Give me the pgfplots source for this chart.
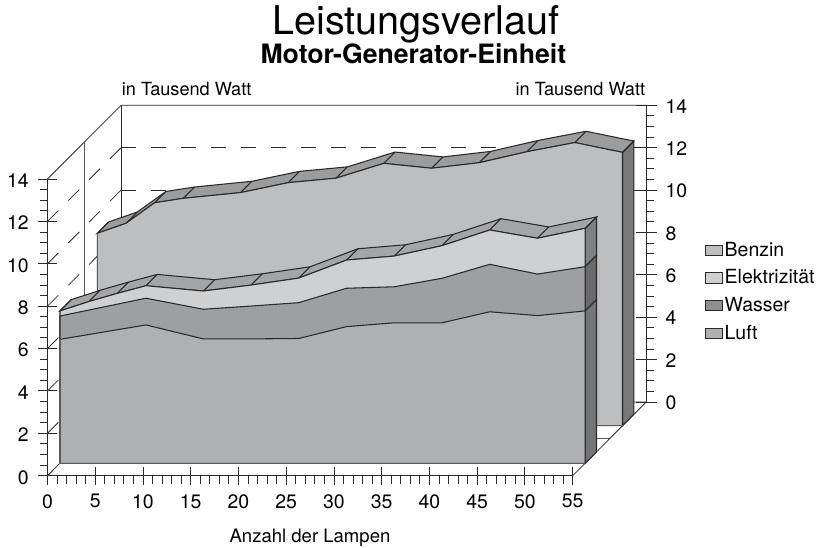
\documentclass[border=0pt]{standalone}
\usepackage{fontspec}
\setmainfont{TeX Gyre Heros}
\usepackage{pgfplots}
\usepackage{pgfplotstable}
\pgfplotsset{compat=1.18}
\definecolor{ln}{HTML}{2A2A2A}
\definecolor{grl}{HTML}{5A5A5C}
\definecolor{fB}{HTML}{BDBEC0}
\definecolor{sB}{HTML}{9B9C9E}
\definecolor{eB}{HTML}{77787A}
\definecolor{fE}{HTML}{CFD0D2}
\definecolor{sE}{HTML}{A4A5A7}
\definecolor{eE}{HTML}{808183}
\definecolor{fW}{HTML}{9E9FA1}
\definecolor{eW}{HTML}{6B6B6D}
\definecolor{lW}{HTML}{8E8F91}
\definecolor{fL}{HTML}{AFB0B2}
\definecolor{eL}{HTML}{747577}
% depth steps, in units of the two axes
\def\sx{1.184}\def\sy{0.533}
\def\fx{1.31}\def\fy{0.585}
\def\bx{5.217}\def\by{2.36}
% Benzin: first 13 rows front edge, then back edge reversed
\pgfplotstableread{
x y d
0 9.08 0
3 9.55 0
6 10.52 0
9 10.73 0
15 11.00 0
20 11.47 0
25 11.68 0
30 12.38 0
35 12.15 0
40 12.41 0
45 12.93 0
50 13.36 0
55 12.90 0
55 12.90 1
50 13.36 1
45 12.93 1
40 12.41 1
35 12.15 1
30 12.38 1
25 11.68 1
20 11.47 1
15 11.00 1
9 10.73 1
6 10.52 1
3 9.55 1
0 9.08 1
}\tabB
\pgfplotstableread{
x y d
0 7.19 0
3 7.63 0
6 8.02 0
9 8.38 0
15 8.13 0
20 8.41 0
25 8.74 0
30 9.59 0
35 9.78 0
40 10.27 0
45 11.01 0
50 10.62 0
55 11.09 0
55 11.09 1
50 10.62 1
45 11.01 1
40 10.27 1
35 9.78 1
30 9.59 1
25 8.74 1
20 8.41 1
15 8.13 1
9 8.38 1
6 8.02 1
3 7.63 1
0 7.19 1
}\tabE
\pgfplotstableread{
x y
0 6.95
9 7.79
15 7.27
20 7.42
25 7.58
30 8.26
35 8.33
40 8.73
45 9.39
50 8.93
55 9.28
}\tabW
\pgfplotstableread{
x y
0 5.85
9 6.53
15 5.87
20 5.87
25 5.89
30 6.45
35 6.63
40 6.63
45 7.15
50 6.97
55 7.19
}\tabL
\pgfplotsset{
  /pgfplots/table/inF/.style={x expr=\thisrow{x}+\fx,y expr=\thisrow{y}+\fy},
  /pgfplots/table/inB/.style={x expr=\thisrow{x}+\bx,y expr=\thisrow{y}+\by},
  /pgfplots/table/inFd/.style={x expr=\thisrow{x}+\fx+\thisrow{d}*\sx,y expr=\thisrow{y}+\fy+\thisrow{d}*\sy},
  /pgfplots/table/inBd/.style={x expr=\thisrow{x}+\bx+\thisrow{d}*\sx,y expr=\thisrow{y}+\by+\thisrow{d}*\sy},
}
\begin{document}
\begin{tikzpicture}
\path[use as bounding box] (0,0) rectangle (617.25pt,411pt);
% back axis: right-hand scale
\begin{axis}[
  at={(90.75pt,109.5pt)},anchor=south west,scale only axis,
  width=393.9pt,height=222.5pt,
  xmin=0,xmax=55,ymin=0,ymax=14,
  axis x line=none,axis y line=right,axis line style={-,ln,line width=0.8pt},
  ytick={0,2,...,14},minor y tick num=3,
  tick align=center,major tick length=16pt,minor tick length=6pt,
  tick style={ln,line width=0.7pt},
  minor y tick style={xshift=3pt},
  tick label style={font=\fontsize{14.6pt}{16pt}\selectfont},
  yticklabel style={xshift=3pt,yshift=-0.6pt},
  /pgf/number format/assume math mode=true,
]
\end{axis}
% main axis
\begin{axis}[
  at={(35.625pt,54.225pt)},anchor=south west,scale only axis,
  width=393.9pt,height=222.5pt,
  xmin=0,xmax=55,ymin=0,ymax=14,clip=false,
  axis x line=bottom,axis y line=left,axis line style={-,ln,line width=0.8pt},
  xtick={0,5,...,55},ytick={0,2,...,14},minor x tick num=4,minor y tick num=3,
  tick align=center,major tick length=13.5pt,minor tick length=6pt,
  tick style={ln,line width=0.7pt},
  minor x tick style={yshift=-3pt},
  minor y tick style={xshift=-3pt},
  tick label style={font=\fontsize{14.6pt}{16pt}\selectfont},
  yticklabel style={xshift=-3.75pt,yshift=-1.2pt},
  xticklabel style={yshift=-3.75pt},
  /pgf/number format/assume math mode=true,
  xlabel={Anzahl der Lampen},
  x label style={at={(axis description cs:0.4998,-0.2268)},anchor=base,font=\fontsize{13.9pt}{16pt}\selectfont},
  legend style={at={(axis cs:68.84,11.11)},anchor=north west,draw=none,fill=none,
    font=\fontsize{14.6pt}{16pt}\selectfont,row sep=6.5pt,inner sep=0pt,
    nodes={inner sep=1.1pt}},
  legend cell align=left,
  legend image code/.code={\draw[#1] (0pt,-3.8pt) rectangle (13pt,3.8pt);},
]
\addlegendimage{fill=fB,draw=ln,line width=0.6pt}\addlegendentry{Benzin}
\addlegendimage{fill=fE,draw=ln,line width=0.6pt}\addlegendentry{Elektrizität}
\addlegendimage{fill=lW,draw=ln,line width=0.6pt}\addlegendentry{Wasser}
\addlegendimage{fill=fL,draw=ln,line width=0.6pt}\addlegendentry{Luft}
% walls and floor
\pgfplotsset{every axis plot/.append style={forget plot,no marks}}
\addplot[ln,line width=0.6pt] coordinates {(0,14)(7.7,17.478)(62.7,17.478)};
\addplot[ln,line width=0.7pt] coordinates {(7.7,3.478)(7.7,17.478)};
\addplot[ln,line width=0.6pt] coordinates {(0,0)(7.7,3.478)(62.7,3.478)(55,0)};
\addplot[grl,line width=0.7pt] coordinates {(3.85,15.739)(3.85,1.739)(58.85,1.739)};
\addplot[ln,line width=0.7pt,dash pattern=on 11.25pt off 11.25pt] coordinates {(7.7,15.478)(62.7,15.478)};
\addplot[ln,line width=0.7pt,dash pattern=on 11.25pt off 11.25pt] coordinates {(7.7,13.478)(62.7,13.478)};
\addplot[ln,line width=0.6pt,dash pattern=on 11.6pt off 10.5pt] coordinates {(0,2)(7.7,5.478)};
\addplot[ln,line width=0.6pt,dash pattern=on 11.6pt off 10.5pt] coordinates {(0,4)(7.7,7.478)};
\addplot[ln,line width=0.6pt,dash pattern=on 11.6pt off 10.5pt] coordinates {(0,6)(7.7,9.478)};
\addplot[ln,line width=0.6pt,dash pattern=on 11.6pt off 10.5pt] coordinates {(0,8)(7.7,11.478)};
\addplot[ln,line width=0.6pt,dash pattern=on 11.6pt off 10.5pt] coordinates {(0,10)(7.7,13.478)};
\addplot[ln,line width=0.6pt,dash pattern=on 11.6pt off 10.5pt] coordinates {(0,12)(7.7,15.478)};
% Benzin
\addplot[fill=eB,draw=ln,line width=0.8pt] table[inBd] {
x y d
55 0 0
55 12.90 0
55 12.90 1
55 0 1
} -- cycle;
\addplot[fill=sB,draw=ln,line width=0.8pt] table[inBd] {\tabB} -- cycle;
\addplot[ln,line width=0.8pt,quiver={u=\sx,v=\sy},skip coords between index={13}{26}] table[inB] {\tabB};
\addplot[fill=fB,draw=ln,line width=0.8pt,skip coords between index={13}{26}] table[inB] {\tabB}
  -- (axis cs:60.217,2.36) -- (axis cs:5.217,2.36) -- cycle;
\addplot[grl,line width=0.9pt] coordinates {(5.217,11.44)(5.217,2.36)(60.217,2.36)};
% front block: side faces
\addplot[fill=eE,draw=ln,line width=0.8pt] table[inFd] {
x y d
55 9.28 0
55 11.09 0
55 11.09 1
55 9.28 1
} -- cycle;
\addplot[fill=eW,draw=ln,line width=0.8pt] table[inFd] {
x y d
55 7.19 0
55 9.28 0
55 9.28 1
55 7.19 1
} -- cycle;
\addplot[fill=eL,draw=ln,line width=0.8pt] table[inFd] {
x y d
55 0 0
55 7.19 0
55 7.19 1
55 0 1
} -- cycle;
% front block: top strip and faces
\addplot[fill=sE,draw=ln,line width=0.8pt] table[inFd] {\tabE} -- cycle;
\addplot[ln,line width=0.8pt,quiver={u=\sx,v=\sy},skip coords between index={13}{26}] table[inF] {\tabE};
\addplot[fill=fE,draw=ln,line width=0.8pt,skip coords between index={13}{26}] table[inF] {\tabE}
  -- (axis cs:56.31,0.585) -- (axis cs:1.31,0.585) -- cycle;
\addplot[fill=fW,draw=ln,line width=0.8pt] table[inF] {\tabW}
  -- (axis cs:56.31,0.585) -- (axis cs:1.31,0.585) -- cycle;
\addplot[fill=fL,draw=ln,line width=0.8pt] table[inF] {\tabL}
  -- (axis cs:56.31,0.585) -- (axis cs:1.31,0.585) -- cycle;
\addplot[grl,line width=1.1pt] coordinates {(1.31,6.435)(1.31,0.585)(56.31,0.585)};
\end{axis}
% titles
\node[anchor=base,inner sep=0pt,font=\fontsize{29.7pt}{32pt}\selectfont] at (312pt,384.75pt) {Leistungsverlauf};
\node[anchor=base,inner sep=0pt,font=\fontsize{20pt}{22pt}\selectfont\bfseries] at (310pt,363pt) {Motor-Generator-Einheit};
\node[anchor=base west,inner sep=0pt,font=\fontsize{13.6pt}{16pt}\selectfont] at (91.2pt,339pt) {in Tausend Watt};
\node[anchor=base west,inner sep=0pt,font=\fontsize{13.6pt}{16pt}\selectfont] at (386.5pt,339pt) {in Tausend Watt};
\end{tikzpicture}
\end{document}
